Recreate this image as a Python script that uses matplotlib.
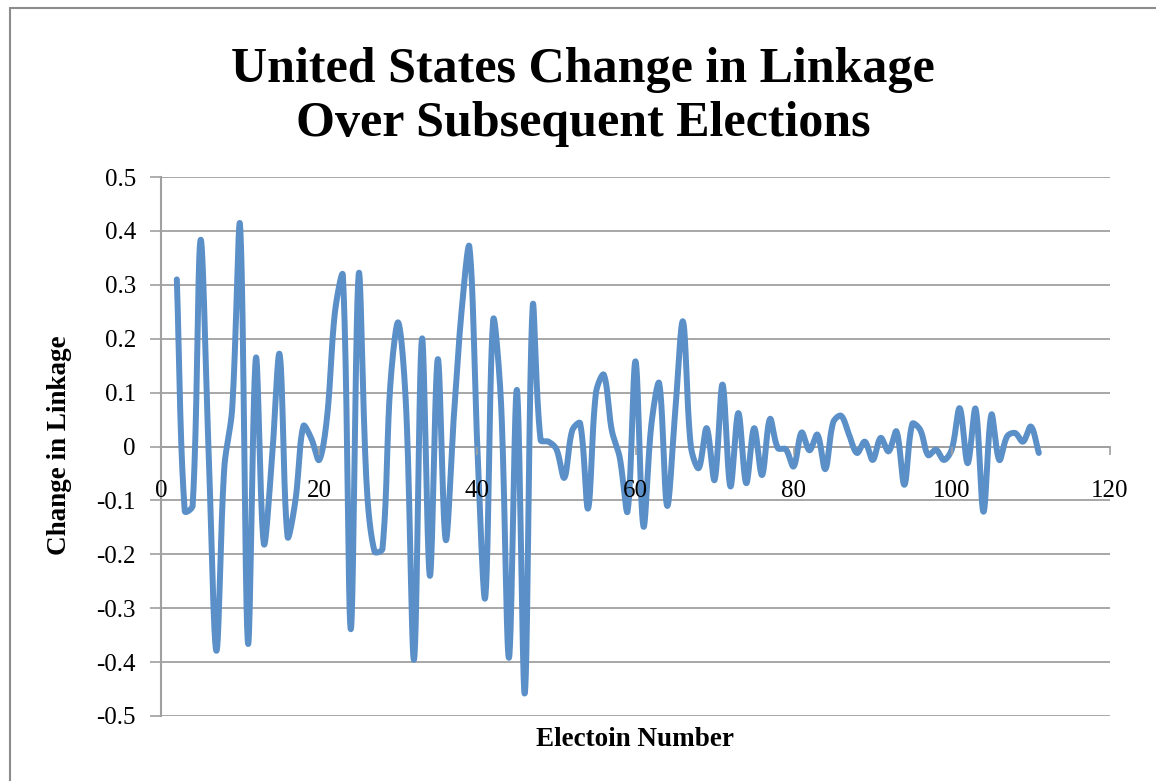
#!/usr/bin/env python3
"""Change in linkage between subsequent US elections, smoothed line chart."""
import matplotlib
matplotlib.use('Agg')
import matplotlib.pyplot as plt
import numpy as np
from matplotlib.patches import Rectangle

plt.rcParams.update({
    'font.family': 'Liberation Serif',
    'axes.unicode_minus': False,
})

# === Data: election number vs change in linkage ===
election = np.arange(2, 112)
change = [
    0.31, -0.12, -0.11, 0.383, 0.0, -0.379, -0.04, 0.07, 0.41, -0.365,   # 2-11
    0.164, -0.18, -0.03, 0.171, -0.167, -0.10, 0.038, 0.015, -0.025, 0.055,  # 12-21
    0.25, 0.317, -0.339, 0.32, -0.07, -0.195, -0.19, 0.115, 0.23, 0.07,   # 22-31
    -0.395, 0.2, -0.24, 0.162, -0.173, 0.05, 0.25, 0.37, 0.0, -0.28,     # 32-41
    0.234, 0.08, -0.392, 0.105, -0.458, 0.26, 0.012, 0.009, -0.005, -0.058,  # 42-51
    0.03, 0.043, -0.115, 0.1, 0.133, 0.03, -0.02, -0.12, 0.158, -0.148,  # 52-61
    0.04, 0.117, -0.11, 0.06, 0.232, 0.0, -0.04, 0.034, -0.062, 0.115,   # 62-71
    -0.074, 0.062, -0.068, 0.034, -0.053, 0.051, -0.003, -0.005, -0.037, 0.026,  # 72-81
    -0.007, 0.022, -0.042, 0.045, 0.057, 0.022, -0.012, 0.009, -0.025, 0.016,  # 82-91
    -0.009, 0.028, -0.071, 0.042, 0.031, -0.016, -0.006, -0.025, -0.005, 0.071,  # 92-101
    -0.031, 0.07, -0.121, 0.059, -0.025, 0.019, 0.025, 0.009, 0.037, -0.012,  # 102-111
]

x_ticks = [0, 20, 40, 60, 80, 100, 120]
y_ticks = [-0.5, -0.4, -0.3, -0.2, -0.1, 0, 0.1, 0.2, 0.3, 0.4, 0.5]


def smooth(x, y, sx=1.0, sy=1.0, n=30):
    """Bezier curve through every point, tangents scaled by segment length
    (measured in display units sx, sy) so short segments do not overshoot."""
    x = np.asarray(x, float)
    y = np.asarray(y, float)
    px = np.concatenate([[x[0]], x, [x[-1]]])
    py = np.concatenate([[y[0]], y, [y[-1]]])
    d = np.hypot(np.diff(px) * sx, np.diff(py) * sy)
    t = np.linspace(0, 1, n, endpoint=False)[:, None]
    segs = []
    for i in range(1, len(px) - 2):
        p0 = np.array([px[i - 1], py[i - 1]])
        p1 = np.array([px[i], py[i]])
        p2 = np.array([px[i + 1], py[i + 1]])
        p3 = np.array([px[i + 2], py[i + 2]])
        d01, d12, d23 = d[i - 1], d[i], d[i + 1]
        c1 = p1 + (p2 - p0) * d12 / (3 * max(d01 + d12, 1e-9))
        c2 = p2 - (p3 - p1) * d12 / (3 * max(d12 + d23, 1e-9))
        segs.append((1 - t) ** 3 * p1 + 3 * (1 - t) ** 2 * t * c1
                    + 3 * (1 - t) * t ** 2 * c2 + t ** 3 * p2)
    segs.append(np.array([[x[-1], y[-1]]]))
    pts = np.vstack(segs)
    return pts[:, 0], pts[:, 1]


fig = plt.figure(figsize=(11.56, 7.81), dpi=100)
fig.patches.append(Rectangle((10 / 1156, -0.1), 1.2, 1 - 8 / 781 + 0.1,
                             transform=fig.transFigure, fill=False,
                             edgecolor='#8c8c8c', linewidth=1.5))

ax = fig.add_axes([161 / 1156, 1 - 716 / 781, 949 / 1156, 539 / 781])

grid_color = '#a0a0a0'
for yv in y_ticks:
    ax.axhline(yv, color=grid_color, linewidth=1.3, zorder=1)

# pixel scale of the axes: 949 px over 120 units, 539 px over 1.0
lx, ly = smooth(election, change, sx=949 / 120, sy=539 / 1.0)
ax.plot(lx, ly, color='#5b8fc7', linewidth=4.3, solid_capstyle='round',
        solid_joinstyle='round', zorder=3)

ax.set_xlim(0, 120)
ax.set_ylim(-0.5, 0.5)
ax.set_xticks(x_ticks)
ax.set_xticklabels([str(v) for v in x_ticks])
ax.set_yticks(y_ticks)
ax.set_yticklabels(['0' if v == 0 else f'{v:.1f}' for v in y_ticks])

for side in ('top', 'right'):
    ax.spines[side].set_visible(False)
ax.spines['bottom'].set_position(('data', 0))
ax.spines['bottom'].set_color(grid_color)
ax.spines['bottom'].set_linewidth(1.3)
ax.spines['left'].set_color(grid_color)
ax.spines['left'].set_linewidth(1.5)
ax.xaxis.set_zorder(5)

ax.tick_params(axis='x', direction='out', length=6, width=1.2,
               color=grid_color, labelsize=18, pad=18)
ax.tick_params(axis='y', direction='out', length=8, width=1.2,
               color=grid_color, labelsize=18, pad=10)

fig.text(583 / 1156, 1 - 97 / 781,
         'United States Change in Linkage\nOver Subsequent Elections',
         ha='center', va='center', fontsize=36, fontweight='bold',
         linespacing=1.25)
fig.text(60 / 1156, 1 - 445 / 781, 'Change in Linkage', rotation=90,
         ha='center', va='center', fontsize=19.5, fontweight='bold')
fig.text(635 / 1156, 1 - 740 / 781, 'Electoin Number',
         ha='center', va='center', fontsize=19.5, fontweight='bold')

fig.savefig('out.png', dpi=100)
